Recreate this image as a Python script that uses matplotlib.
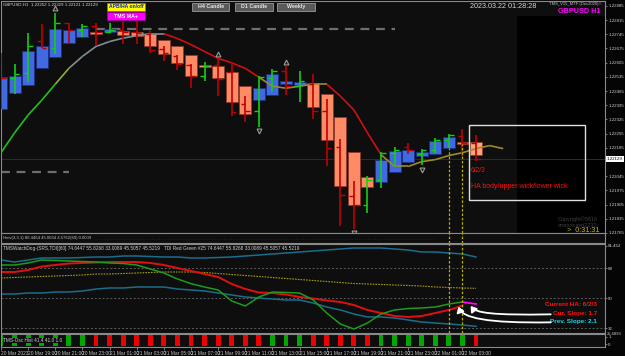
import matplotlib
matplotlib.use('Agg')
import matplotlib.pyplot as plt
import numpy as np
from matplotlib.patches import Rectangle, FancyArrowPatch
from matplotlib.path import Path
from matplotlib.collections import LineCollection
import matplotlib.transforms as mtrans

plt.rcParams['font.family'] = ['Liberation Sans', 'DejaVu Sans']

W, H = 625, 356

# ---------------- data ----------------
symbol = 'GBPUSD,H1'
header_ohlc = ['1.22252', '1.22329', '1.22121', '1.22129']
current_price = 1.22129
clock_text = '2023.03.22 01:28:28'

time_labels = ['20 Mar 2023', '20 Mar 19:00', '20 Mar 21:00', '20 Mar 23:00',
               '21 Mar 01:00', '21 Mar 03:00', '21 Mar 05:00', '21 Mar 07:00',
               '21 Mar 09:00', '21 Mar 11:00', '21 Mar 13:00', '21 Mar 15:00',
               '21 Mar 17:00', '21 Mar 19:00', '21 Mar 21:00', '21 Mar 23:00',
               '22 Mar 01:00', '22 Mar 03:00']

price_ticks = ['1.22885', '1.22815', '1.22745', '1.22675', '1.22605', '1.22535',
               '1.22465', '1.22395', '1.22325', '1.22255', '1.22185', '1.22045',
               '1.21975', '1.21905', '1.21835', '1.21765']

# Heikin-Ashi bodies
ha_open = [1.22376, 1.22455, 1.22494, 1.22577, 1.22631, 1.22704, 1.22733, 1.22758,
           1.22758, 1.22763, 1.22758, 1.22748, 1.22719, 1.22685, 1.22645, 1.22592,
           1.22587, 1.22557, 1.22489, 1.22420, 1.22445, 1.22499, 1.22494, 1.22504,
           1.22450, 1.22337, 1.22166, 1.22039, 1.22015, 1.22068, 1.22117, 1.22147,
           1.22156, 1.22186, 1.22215, 1.22215]
ha_close = [1.22533, 1.22538, 1.22660, 1.22689, 1.22773, 1.22768, 1.22777, 1.22748,
            1.22773, 1.22743, 1.22738, 1.22685, 1.22650, 1.22601, 1.22538, 1.22582,
            1.22528, 1.22411, 1.22352, 1.22479, 1.22548, 1.22513, 1.22508, 1.22386,
            1.22225, 1.21995, 1.21902, 1.21990, 1.22127, 1.22171, 1.22176, 1.22166,
            1.22220, 1.22240, 1.22205, 1.22151]

# regular OHLC bars
bar_open = [1.22621, 1.22528, 1.22552, 1.22714, 1.22675, 1.22802, 1.22768, 1.22787,
            1.22758, 1.22768, 1.22758, 1.22748, 1.22670, 1.22640, 1.22592, 1.22538,
            1.22592, 1.22557, 1.22401, 1.22367, 1.22528, 1.22562, 1.22489, 1.22499,
            1.22367, 1.22191, 1.21946, 1.21902, 1.22024, 1.22161, 1.22191, 1.22156,
            1.22176, 1.22225, 1.22244, 1.22210]
bar_high = [1.22655, 1.22596, 1.22753, 1.22797, 1.22851, 1.22802, 1.22797, 1.22802,
            1.22802, 1.22807, 1.22821, 1.22763, 1.22685, 1.22645, 1.22596, 1.22606,
            1.22626, 1.22606, 1.22440, 1.22538, 1.22572, 1.22587, 1.22562, 1.22548,
            1.22425, 1.22230, 1.22019, 1.22044, 1.22166, 1.22191, 1.22210, 1.22181,
            1.22235, 1.22254, 1.22279, 1.22249]
bar_low = [1.22376, 1.22450, 1.22508, 1.22675, 1.22650, 1.22704, 1.22733, 1.22689,
           1.22753, 1.22699, 1.22699, 1.22655, 1.22611, 1.22567, 1.22479, 1.22513,
           1.22440, 1.22342, 1.22313, 1.22288, 1.22464, 1.22445, 1.22411, 1.22328,
           1.22093, 1.21799, 1.21785, 1.21863, 1.21985, 1.22098, 1.22156, 1.22098,
           1.22161, 1.22186, 1.22147, 1.22122]
bar_close = [1.22528, 1.22548, 1.22689, 1.22675, 1.22802, 1.22768, 1.22787, 1.22758,
             1.22768, 1.22758, 1.22753, 1.22665, 1.22655, 1.22596, 1.22538, 1.22587,
             1.22523, 1.22362, 1.22367, 1.22533, 1.22562, 1.22489, 1.22513, 1.22367,
             1.22186, 1.21951, 1.21902, 1.22024, 1.22161, 1.22176, 1.22176, 1.22176,
             1.22225, 1.22249, 1.22210, 1.22132]

# TMS moving average (extends two bars past the last candle)
ma_values = [1.22161, 1.22259, 1.22347, 1.22420, 1.22499, 1.22577, 1.22636, 1.22685,
             1.22709, 1.22726, 1.22738, 1.22748, 1.22748, 1.22724, 1.22694, 1.22660,
             1.22626, 1.22604, 1.22577, 1.22533, 1.22489, 1.22479, 1.22489, 1.22499,
             1.22499, 1.22440, 1.22372, 1.22259, 1.22151, 1.22093, 1.22093, 1.22117,
             1.22127, 1.22147, 1.22161, 1.22181, 1.22196, 1.22181]
ma_trend = ['up', 'up', 'up', 'up', 'turn', 'flat', 'flat', 'flat', 'flat', 'flat',
            'flat', 'flat', 'down', 'down', 'down', 'down', 'down', 'down', 'down',
            'side', 'side', 'side', 'side', 'side', 'down', 'down', 'down', 'down',
            'side', 'side', 'side', 'side', 'side', 'side', 'side', 'side', 'side']

levels = [(1.22773, 7, 29), (1.22068, 0, 5)]
fractal_up_bars = [4, 16, 21]
fractal_down_bars = [19, 26, 31]
marked_bars = [33, 34]

# TDI panel
tdi_upper = [72.8, 71.6, 72.8, 74.0, 74.0, 74.0, 74.3, 74.6, 74.6, 75.2, 75.2, 74.9,
             74.6, 74.6, 74.0, 74.0, 74.3, 74.6, 75.2, 75.8, 76.4, 77.0, 77.6, 78.2,
             78.8, 79.4, 80.0, 80.0, 80.0, 79.4, 78.8, 77.6, 77.6, 77.0, 76.4, 74.6]
tdi_mid = [62.0, 62.3, 62.6, 62.9, 63.2, 63.5, 63.8, 64.4, 64.4, 64.7, 65.0, 65.3,
           65.6, 65.6, 65.6, 65.3, 64.7, 64.1, 63.5, 62.9, 62.3, 61.7, 61.1, 60.5,
           59.9, 59.3, 58.7, 58.4, 58.1, 57.8, 57.5, 57.2, 56.6, 56.3, 56.0, 55.8]
tdi_lower = [52.4, 52.4, 53.0, 53.0, 53.6, 53.6, 54.2, 55.4, 56.0, 56.0, 56.6, 56.6,
             56.6, 55.4, 54.8, 54.2, 53.0, 51.8, 50.6, 50.0, 49.4, 48.8, 48.8, 47.0,
             44.6, 42.8, 40.4, 38.6, 38.6, 38.0, 36.8, 35.6, 35.0, 34.4, 33.8, 33.0]
tdi_signal = [65.6, 65.6, 66.8, 68.9, 69.8, 70.7, 71.0, 71.3, 71.6, 71.6, 71.6, 71.0,
              69.8, 68.0, 66.2, 64.4, 62.6, 58.4, 55.4, 53.3, 53.0, 52.1, 50.6, 49.7,
              48.5, 47.6, 45.8, 42.8, 41.0, 39.2, 38.6, 39.2, 41.0, 42.8, 45.5]
tdi_rsi = [69.8, 69.8, 71.0, 72.8, 72.5, 72.2, 71.9, 71.6, 71.0, 70.7, 69.8, 67.4,
           65.0, 61.4, 58.6, 56.6, 54.8, 48.2, 45.2, 50.6, 53.6, 53.3, 53.0, 48.8,
           41.0, 34.4, 31.4, 35.0, 40.4, 42.8, 43.7, 44.0, 44.6, 46.4, 47.6, 46.4]
tdi_levels = [68, 50, 32]
tdi_ticks = ['81.452', '68', '50', '32']
tdi_tick_vals = [81.452, 68, 50, 32]

osc_hist = [1, 1, 1, 1, 1, 1, 1, -1, -1, -1, -1, -1, -1, -1, -1, -1, -1, -1, -1, -1,
            1, 1, 1, -1, -1, -1, -1, -1, 1, 1, 1, 1, 1, 1, 1, -1]

# ---------------- figure ----------------
fig = plt.figure(figsize=(W / 100, H / 100), dpi=100, facecolor='#050505')

def add_ax(x0, y0, x1, y1, fc='#0e0e0e'):
    a = fig.add_axes([x0 / W, 1 - y1 / H, (x1 - x0) / W, (y1 - y0) / H])
    a.set_facecolor(fc)
    for s in a.spines.values():
        s.set_color('#8a8a8a')
        s.set_linewidth(0.8)
    return a

def ftext(x, y, s, **kw):
    fig.text(x / W, 1 - y / H, s, **kw)

def fbox(x0, y0, x1, y1, **kw):
    fig.add_artist(Rectangle((x0 / W, 1 - y1 / H), (x1 - x0) / W, (y1 - y0) / H,
                             transform=fig.transFigure, **kw))

TICK_FS = 3.2
n = len(ha_open)
xs = np.arange(n)
XMAX = 44.5

# ---- main price pane ----
ax = add_ax(1, 1, 605, 233)
ax.set_xlim(0, XMAX)
ax.set_ylim(1.21765, 1.22909)
ax.axvspan(38, XMAX, ymin=0, ymax=(233 - 16) / 232, color='black', zorder=0.5, lw=0)
ax.axhline(current_price, color='#2c2c2c', lw=0.7, zorder=1)
for lv, a0, a1 in levels:
    ax.hlines(lv, a0, a1, colors='#6e6e6e', lw=1.6, linestyles=(0, (4, 3)), zorder=1)

for i in xs:
    o, c = ha_open[i], ha_close[i]
    up = c >= o
    fc = '#4169e1' if up else '#ff8a66'
    ec = '#1d2f80' if up else '#8c3a28'
    if i == n - 1:
        fc = '#ffa27c'
    ax.bar(i, max(abs(c - o), 0.00002), bottom=min(o, c), width=0.88, color=fc,
           edgecolor=ec, linewidth=0.6, zorder=2)

trend_col = {'up': '#1fbf1f', 'turn': '#8fae2f', 'flat': '#7f8e94',
             'down': '#d01010', 'side': '#9a8a2c'}
ma_x = np.arange(len(ma_values))
segs = [[(ma_x[i], ma_values[i]), (ma_x[i + 1], ma_values[i + 1])] for i in range(len(ma_values) - 1)]
ax.add_collection(LineCollection(segs, colors=[trend_col[t] for t in ma_trend], lw=1.2, zorder=3))

cols = ['#12d012' if bar_close[i] >= bar_open[i] else '#c00000' for i in xs]
ax.vlines(xs, bar_low, bar_high, colors=cols, lw=1.2, zorder=4)
ax.hlines(bar_open, xs - 0.34, xs, colors=cols, lw=1.0, zorder=4)
ax.hlines(bar_close, xs, xs + 0.34, colors=cols, lw=1.0, zorder=4)

ax.plot(fractal_up_bars, [bar_high[i] + 0.00022 for i in fractal_up_bars], ls='none',
        marker='^', ms=3.5, mfc='#1a1a1a', mec='#9a9a9a', mew=0.8, zorder=5, clip_on=False)
ax.plot(fractal_down_bars, [bar_low[i] - 0.00022 for i in fractal_down_bars], ls='none',
        marker='v', ms=3.5, mfc='#1a1a1a', mec='#9a9a9a', mew=0.8, zorder=5, clip_on=False)

ax.vlines(marked_bars, 1.21765, [min(ha_open[i], ha_close[i]) for i in marked_bars],
          colors='#b8b000', lw=0.9, linestyles=(0, (2, 1.5)), zorder=6)

ax.yaxis.tick_right()
ax.set_yticks([float(t) for t in price_ticks])
ax.set_yticklabels(price_ticks)
ax.tick_params(axis='y', colors='#8a8a8a', labelcolor='#d0d0d0', labelsize=TICK_FS,
               length=1.5, width=0.6, pad=0.8)
ax.set_xticks([])
trans = mtrans.blended_transform_factory(ax.transAxes, ax.transData)
ax.text(1.003, current_price, f'{current_price:.5f}', transform=trans, fontsize=TICK_FS,
        color='black', va='center', ha='left', zorder=10, clip_on=False,
        bbox=dict(boxstyle='square,pad=0.2', fc='white', ec='none'))

# ---- small strip pane ----
axs = add_ax(1, 233, 605, 243)
axs.set_xlim(0, XMAX)
axs.set_ylim(0, 1)
axs.set_xticks([]); axs.set_yticks([])
axs.vlines(marked_bars, 0, 1, colors='#b8b000', lw=0.9, linestyles=(0, (2, 1.5)))
axs.text(0.004, 0.45, 'Heiv(3,3,1) 80.4464 45.0034 4.5762(60) 0.0009', transform=axs.transAxes,
         fontsize=3.1, color='#bcbcbc', va='center')
axs.text(0.16, 0.45, '. ' * 150, transform=axs.transAxes, fontsize=3.1, color='#7a7a7a',
         va='center', clip_on=True)

# ---- TDI pane ----
axr = add_ax(1, 244, 605, 333)
axr.set_xlim(0, XMAX)
axr.set_ylim(29.0, 82.4)
for lv in tdi_levels:
    axr.axhline(lv, color='#5c5c5c', lw=0.7, ls=(0, (2, 2)))
axr.plot(xs, tdi_upper, color='#1a6d8c', lw=1.1)
axr.plot(xs, tdi_lower, color='#1a6d8c', lw=1.1)
axr.plot(xs, tdi_mid, color='#a89a10', lw=0.8, ls=(0, (1.5, 1)))
axr.plot(xs[:len(tdi_signal)], tdi_signal, color='#e01010', lw=1.4)
axr.plot(xs[:-1], tdi_rsi[:-1], color='#1e9a1e', lw=1.1)
axr.plot(xs[-2:], tdi_rsi[-2:], color='#ff00ff', lw=1.3)
axr.vlines(marked_bars, 29.0, 82.4, colors='#b8b000', lw=0.9, linestyles=(0, (2, 1.5)))
axr.yaxis.tick_right()
axr.set_yticks(tdi_tick_vals)
axr.set_yticklabels(tdi_ticks)
axr.tick_params(axis='y', colors='#8a8a8a', labelcolor='#d0d0d0', labelsize=TICK_FS,
                length=1.5, width=0.6, pad=0.8)
axr.set_xticks([])
axr.text(1.003, 28.6, '25.6893', transform=mtrans.blended_transform_factory(axr.transAxes, axr.transData),
         fontsize=3.0, color='#d0d0d0', va='center', ha='left', clip_on=False)
axr.text(0.004, 0.975, 'TMSWatchDog-(SRS,TDI)[60] 74.6447 55.8268 33.0089 45.5057 45.5219   '
         'TDI Red Green #25 74.6447 55.8268 33.0089 45.5057 45.5219',
         transform=axr.transAxes, fontsize=3.4, color='#d0d0d0', va='top')

axr.text(43.9, 46.2, 'Current HA: 6/2/3', color='#ff1010', fontsize=4.6, fontweight='bold', ha='right', va='center')
axr.text(43.9, 40.8, 'Cur. Slope: 1.7', color='#ff1010', fontsize=4.6, fontweight='bold', ha='right', va='center')
axr.text(43.9, 35.6, 'Prev. Slope: 2.1', color='#18d8e8', fontsize=4.6, fontweight='bold', ha='right', va='center')

arrow_paths = [
    [(40.5, 40.2), (36.2, 39.6), (35.0, 41.0), (34.6, 45.2)],
    [(40.5, 35.4), (35.8, 34.8), (34.0, 38.0), (33.7, 44.8)],
]
for pts in arrow_paths:
    p = Path(pts, [Path.MOVETO, Path.CURVE4, Path.CURVE4, Path.CURVE4])
    axr.add_patch(FancyArrowPatch(path=p, arrowstyle='-|>,head_width=2.2,head_length=3.2',
                                  color='white', lw=1.3, zorder=8))

# ---- oscillator histogram pane ----
axh = add_ax(1, 334, 605, 347)
axh.set_xlim(0, XMAX)
axh.set_ylim(0, 1)
axh.bar(xs, [0.8] * n, bottom=0.1, width=0.36,
        color=['#00a800' if v > 0 else '#f00000' for v in osc_hist])
axh.yaxis.tick_right()
axh.set_yticks([0.2, 0.8])
axh.set_yticklabels(['0', '1'])
axh.tick_params(axis='y', colors='#8a8a8a', labelcolor='#d0d0d0', labelsize=TICK_FS,
                length=1.5, width=0.6, pad=0.8)
axh.set_xticks(np.arange(0, 2 * len(time_labels), 2))
axh.set_xticklabels(time_labels, ha='left')
axh.tick_params(axis='x', colors='#8a8a8a', labelcolor='#c8c8c8', labelsize=3.5,
                length=2, width=0.6, pad=1)
axh.text(0.004, 0.5, 'TMS-Osc Hist 41.4 41.0 1.0', transform=axh.transAxes,
         fontsize=3.4, color='#d0d0d0', va='center', zorder=5,
         bbox=dict(boxstyle='square,pad=0.1', fc='#0e0e0e', ec='none'))

# ---- overlay texts / buttons ----
ftext(3, 4.5, symbol + '  ' + ' '.join(header_ohlc), fontsize=3.2, color='#d8d8d8', va='center')
fbox(107, 3, 145, 10.5, facecolor='#ffff00', edgecolor='#808000', lw=0.5)
ftext(126, 6.8, 'APB/HA on/off', fontsize=3.6, color='#1020c0', fontweight='bold', ha='center', va='center')
fbox(107, 12, 145, 20, facecolor='#ff00ff', edgecolor='#a000a0', lw=0.5)
ftext(126, 16, 'TMS MA+', fontsize=3.8, color='white', fontweight='bold', ha='center', va='center')
for bx, lab in [(192, 'H4 Candle'), (235, 'D1 Candle'), (277, 'Weekly')]:
    fbox(bx, 2.5, bx + 37.5, 10.5, facecolor='#5a5a5a', edgecolor='#9a9a9a', lw=0.6)
    ftext(bx + 18.75, 6.6, lab, fontsize=3.8, color='#e8e8e8', fontweight='bold', ha='center', va='center')

ftext(503, 6.5, clock_text, fontsize=5.2, color='#d8d8d8', ha='center', va='center')
ftext(602, 4.2, 'TMS_V15_MTF (Dec2020)\u00a9', fontsize=3.0, color='#bcbcbc', ha='right', va='center')
ftext(600, 11.5, 'GBPUSD H1', fontsize=5.2, color='#ff00ff', fontweight='bold', ha='right', va='center')

fbox(469, 125, 585, 200, facecolor='none', edgecolor='#e0e0e0', lw=1.0)
ftext(471, 171, '6/2/3', fontsize=4.8, color='#ff1010', va='center')
ftext(471, 187, 'HA body/upper wick/lower wick', fontsize=5.0, color='#ff1010', va='center')

ftext(558, 219, 'Copyright\u00a95816', fontsize=4.0, color='#3e3e3e', va='center')
ftext(558, 225, 'armoricasri2233', fontsize=4.0, color='#3e3e3e', va='center')
ftext(567, 231, '>  0:31:31', fontsize=5.2, color='#c8b400', va='center')

fig.savefig('out.png', dpi=100, facecolor=fig.get_facecolor())
